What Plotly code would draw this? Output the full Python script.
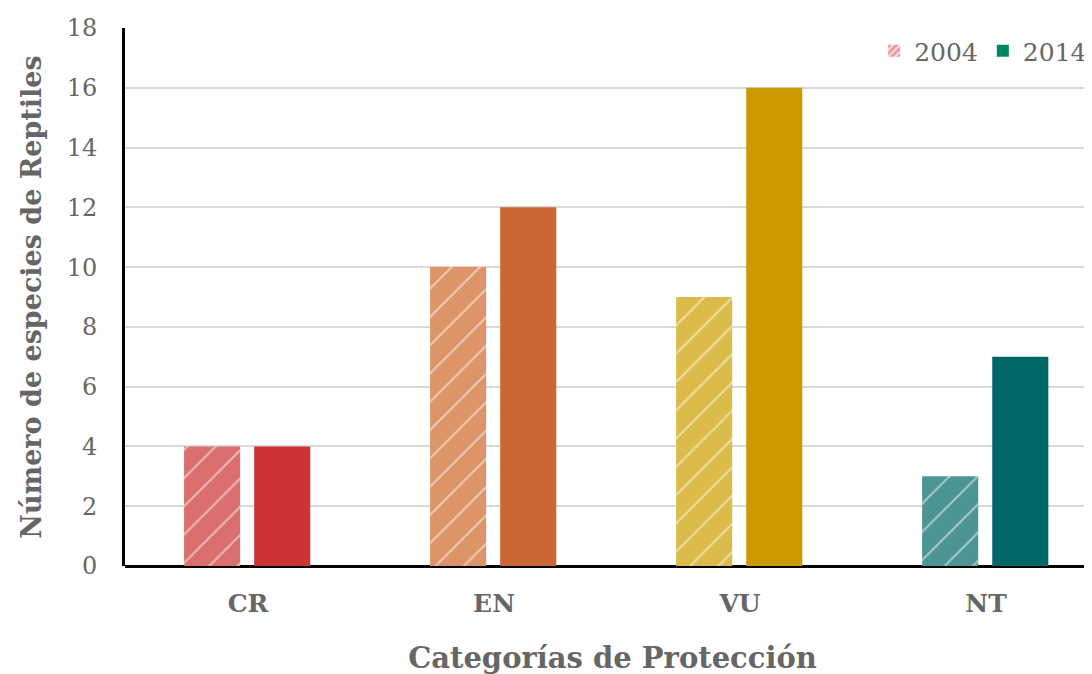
import plotly.graph_objects as go

categories = ["CR", "EN", "VU", "NT"]
values_2004 = [4, 10, 9, 3]
values_2014 = [4, 12, 16, 7]
colors_2014 = ["#cc3333", "#cc6633", "#cc9900", "#006666"]
colors_2004 = ["#db6f6f", "#dd9469", "#dbbb4a", "#4d9494"]
y_ticks = [0, 2, 4, 6, 8, 10, 12, 14, 16, 18]

FONT = "DejaVu Serif"
GRAY = "#666666"

fig = go.Figure()
fig.add_trace(go.Bar(
    x=categories, y=values_2004, name="2004", showlegend=False,
    width=0.228, offset=-0.26,
    marker=dict(color="#db6f6f", line=dict(width=0),
                pattern=dict(shape="/", fillmode="replace", bgcolor=colors_2004,
                             fgcolor="#ffffff", fgopacity=0.5, size=20, solidity=0.1)),
))
fig.add_trace(go.Bar(
    x=categories, y=values_2014, name="2014", showlegend=False,
    width=0.228, offset=0.025,
    marker=dict(color=colors_2014, line=dict(width=0)),
))
# legend entries
fig.add_trace(go.Bar(
    x=[categories[0]], y=[None], name="2004", showlegend=True, width=0.2, offset=0,
    marker=dict(color="#ea9999", line=dict(width=0),
                pattern=dict(shape="/", fillmode="replace", bgcolor="#ea9999", fgcolor="#ffffff",
                             fgopacity=0.9, size=6, solidity=0.3)),
))
fig.add_trace(go.Bar(
    x=[categories[0]], y=[None], name="2014", showlegend=True, width=0.2, offset=0,
    marker=dict(color="#008866", line=dict(width=0)),
))

fig.update_layout(
    width=1092, height=674,
    margin=dict(l=117, r=0, t=20, b=116),
    plot_bgcolor="white", paper_bgcolor="white",
    font=dict(family=FONT, color=GRAY, size=24),
    barmode="overlay",
    legend=dict(orientation="h", x=0.992, xanchor="right", y=1.0, yanchor="top",
                font=dict(size=25, color=GRAY), itemwidth=30, traceorder="normal",
                bgcolor="rgba(0,0,0,0)"),
    xaxis=dict(
        range=[-0.5, 3.463], showgrid=False, showline=False, ticks="",
        ticklabelstandoff=20,
        tickfont=dict(size=25, color=GRAY, family=FONT, weight="bold"),
        title=dict(text="<b>Categorías de Protección</b>", font=dict(size=29, color=GRAY), standoff=30),
        automargin=False,
    ),
    yaxis=dict(
        range=[0, 18], tickvals=y_ticks, showgrid=True, gridcolor="#d9d9d9", gridwidth=2,
        showline=True, linecolor="black", linewidth=3, zeroline=True, zerolinecolor="black", zerolinewidth=3,
        ticks="", ticklabelstandoff=20,
        tickfont=dict(size=24, color=GRAY),
        title=dict(text="<b>Número de especies de Reptiles</b>", font=dict(size=27, color=GRAY), standoff=18),
        automargin=False,
    ),
)

fig.write_html("out.html")
